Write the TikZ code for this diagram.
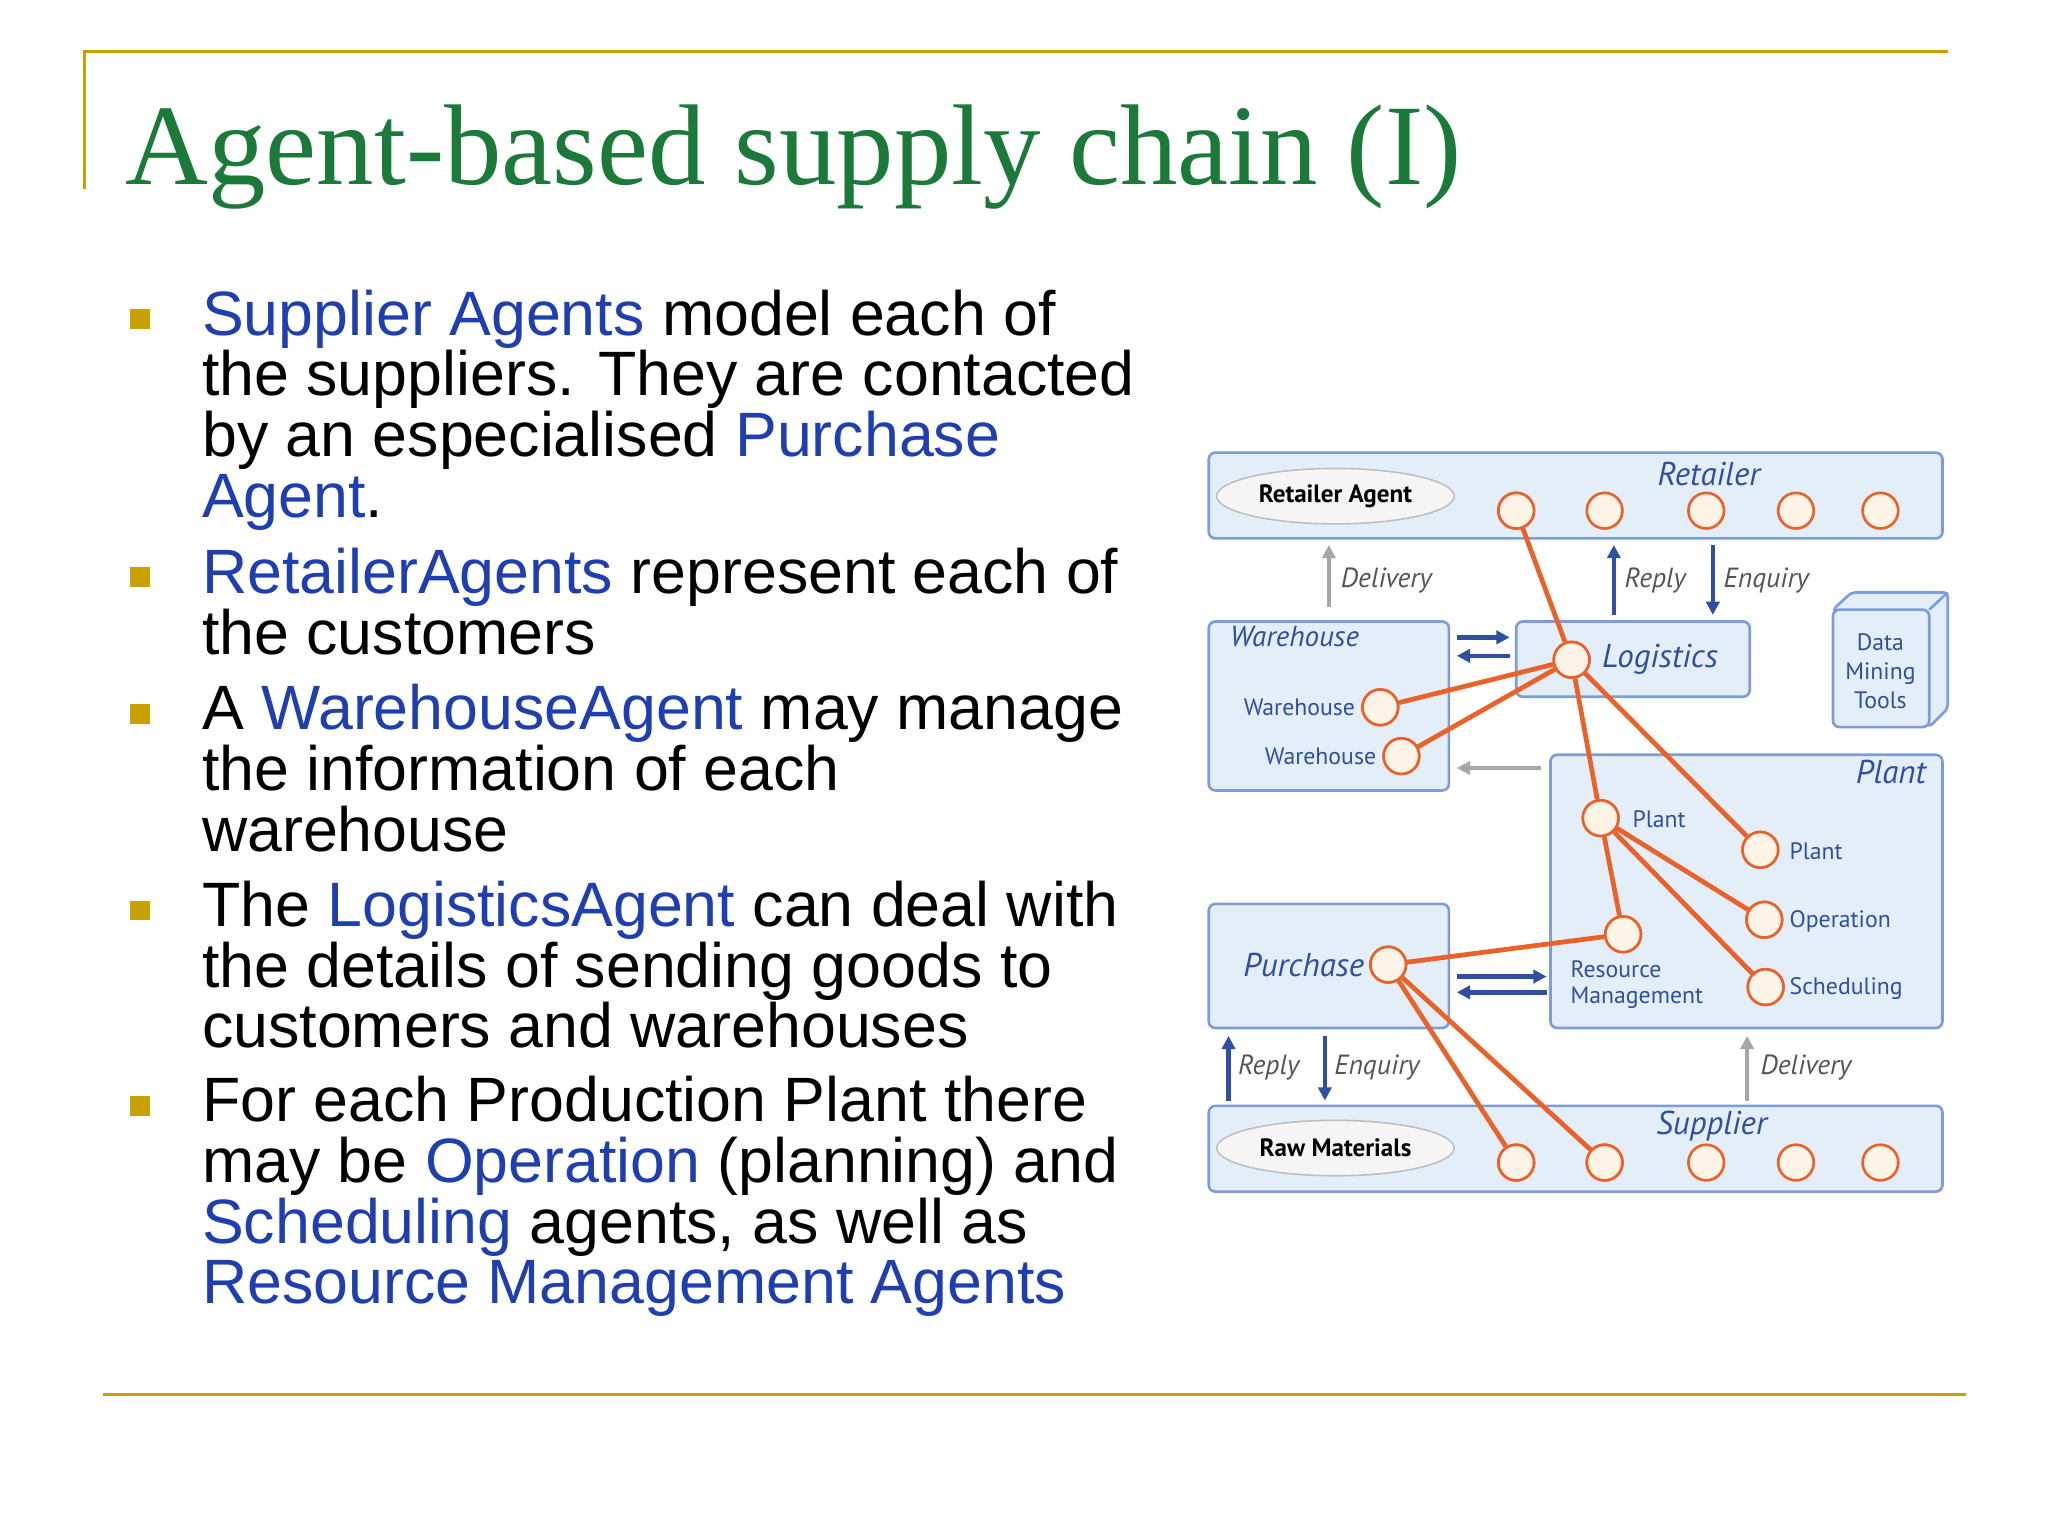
\documentclass[tikz,border=0pt]{standalone}
\usepackage{fontspec}
\setmainfont{Liberation Sans}
\newfontfamily\titlefont{Liberation Serif}
\newfontfamily\dfont{PT Sans}
\usetikzlibrary{arrows.meta,positioning,shapes.geometric}
\definecolor{tgreen}{HTML}{1B7A3A}
\definecolor{gold}{HTML}{C8A000}
\definecolor{hblue}{HTML}{1F3FB0}
\definecolor{bxline}{HTML}{7C9DD6}
\definecolor{bxfill}{HTML}{E4EEF9}
\definecolor{org}{HTML}{E8622A}
\definecolor{cfill}{HTML}{FDF3E6}
\definecolor{dblue}{HTML}{2F4FA0}
\definecolor{dgray}{HTML}{555555}
\tikzset{
 txt/.style={anchor=base west,inner sep=0pt,font=\fontsize{47.5}{46}\selectfont},
 bul/.style={fill=gold,minimum size=15pt,inner sep=0pt},
 bx/.style={draw=bxline,line width=2pt,fill=bxfill,rounded corners=5pt},
 ag/.style={circle,draw=org,line width=2pt,fill=cfill,minimum size=27pt,inner sep=0pt},
 ol/.style={draw=org,line width=3.6pt},
 lab/.style={font=\dfont\fontsize{18}{20}\selectfont,text=dblue,inner sep=1pt},
 ilab/.style={font=\dfont\itshape\fontsize{25}{26}\selectfont,text=dblue,inner sep=1pt},
 alab/.style={font=\dfont\itshape\fontsize{21}{22}\selectfont,text=dgray,inner sep=1pt},
 ell/.style={ellipse,draw=gray!50,line width=1.2pt,fill=gray!8,minimum width=180pt,minimum height=42pt,font=\dfont\bfseries\fontsize{19}{20}\selectfont},
 barr/.style={draw=dblue,line width=3.5pt,-{Triangle[length=10pt,width=10pt]}},
 garr/.style={draw=gray!70,line width=3.5pt,-{Triangle[length=10pt,width=10pt]}}
}
\begin{document}
\begin{tikzpicture}[x=1pt,y=-1pt]
\useasboundingbox (0,0) rectangle (1552,1164);
\fill[white] (0,0) rectangle (1552,1164);
% frame lines
\coordinate (f1) at (64,143); \coordinate (f2) at (64,39); \coordinate (f3) at (1476,39);
\draw[gold,line width=2.5pt] (f1) -- (f2) -- (f3);
\coordinate (b1) at (78,1057); \coordinate (b2) at (1490,1057);
\draw[gold,line width=2.5pt] (b1) -- (b2);
% title
\node[anchor=base west,inner sep=0pt,text=tgreen,font=\titlefont\fontsize{87}{90}\selectfont] (title) at (95,140) {Agent-based supply chain (I)};
% bullets
\foreach \n/\y in {1/242,2/437,3/541,4/690,5/838}{\node[bul] (bu\n) at (106,\y) {};}
\node[txt] (t1) at (153,254) {\textcolor{hblue}{Supplier Agents} model each of};
\node[txt] (t2) at (153,300) {the suppliers. They are contacted};
\node[txt] (t3) at (153,346) {by an especialised \textcolor{hblue}{Purchase}};
\node[txt] (t4) at (153,392) {\textcolor{hblue}{Agent}.};
\node[txt] (t5) at (153,450) {\textcolor{hblue}{RetailerAgents} represent each of};
\node[txt] (t6) at (153,496) {the customers};
\node[txt] (t7) at (153,553) {A \textcolor{hblue}{WarehouseAgent} may manage};
\node[txt] (t8) at (153,599) {the information of each};
\node[txt] (t9) at (153,645) {warehouse};
\node[txt] (t10) at (153,702) {The \textcolor{hblue}{LogisticsAgent} can deal with};
\node[txt] (t11) at (153,748) {the details of sending goods to};
\node[txt] (t12) at (153,794) {customers and warehouses};
\node[txt] (t13) at (153,850) {For each Production Plant there};
\node[txt] (t14) at (153,896) {may be \textcolor{hblue}{Operation} (planning) and};
\node[txt] (t15) at (153,942) {\textcolor{hblue}{Scheduling} agents, as well as};
\node[txt] (t16) at (153,988) {\textcolor{hblue}{Resource Management Agents}};
% boxes
\draw[bx] (916,343) rectangle (1472,408);
\draw[bx] (916,838) rectangle (1472,903);
\draw[bx] (916,471) rectangle (1098,599);
\draw[bx] (1149,471) rectangle (1326,528);
\draw[bx] (1175,572) rectangle (1472,779);
\draw[bx] (916,685) rectangle (1098,779);
% data mining cube
\draw[bx,rounded corners=3pt] (1389,462) -- (1403,449) -- (1476,449) -- (1476,537) -- (1462,551) -- cycle;
\draw[bx] (1389,462) rectangle (1462,551);
\draw[bxline,line width=2pt] (1462,462) -- (1476,449);
\node[lab,align=center,font=\dfont\fontsize{18}{22}\selectfont] (dm) at (1425,509) {Data\\Mining\\Tools};
% labels
\node[ilab] (lret) at (1295,359) {Retailer};
\node[ilab] (lsup) at (1297,853) {Supplier};
\node[ilab,font=\dfont\itshape\fontsize{22}{23}\selectfont] (lwh) at (981,482) {Warehouse};
\node[ilab] (llog) at (1258,500) {Logistics};
\node[ilab] (lplant) at (1433,585) {Plant};
\node[ilab] (lpur) at (988,731) {Purchase};
\node[ell] (ra) at (1012,376) {Retailer Agent};
\node[ell] (rm) at (1012,870) {Raw Materials};
% agents
\foreach \i/\x in {1/1149,2/1216,3/1293,4/1361,5/1425}{
 \node[ag] (r\i) at (\x,387) {};
 \node[ag] (s\i) at (\x,881) {};}
\node[ag] (lg) at (1191,500) {};
\node[ag] (w1) at (1046,536) {};
\node[ag] (w2) at (1062,573) {};
\node[ag] (p1) at (1213,620) {};
\node[ag] (p2) at (1334,644) {};
\node[ag] (op) at (1337,697) {};
\node[ag] (sc) at (1338,748) {};
\node[ag] (res) at (1230,708) {};
\node[ag] (pu) at (1052,731) {};
\node[lab,anchor=east] (lw1) at (1028,536) {Warehouse};
\node[lab,anchor=east] (lw2) at (1044,573) {Warehouse};
\node[lab,anchor=west] (lp1) at (1236,621) {Plant};
\node[lab,anchor=west] (lp2) at (1355,645) {Plant};
\node[lab,anchor=west] (lop) at (1355,698) {Operation};
\node[lab,anchor=west] (lsc) at (1355,749) {Scheduling};
\node[lab,anchor=west,align=left,font=\dfont\fontsize{18}{20}\selectfont] (lres) at (1189,746) {Resource\\Management};
% orange links
\draw[ol] (r1) -- (lg);
\draw[ol] (lg) -- (w1);
\draw[ol] (lg) -- (w2);
\draw[ol] (lg) -- (p1);
\draw[ol] (lg) -- (p2);
\draw[ol] (p1) -- (res);
\draw[ol] (p1) -- (op);
\draw[ol] (p1) -- (sc);
\draw[ol] (pu) -- (res);
\draw[ol] (pu) -- (s1);
\draw[ol] (pu) -- (s2);
\foreach \n in {r1,lg,w1,w2,p1,p2,op,sc,res,pu,s1,s2}{\node[ag] at (\n) {};}
% arrows
\coordinate (d1a) at (1007,460); \coordinate (d1b) at (1007,413);
\draw[garr] (d1a) -- (d1b);
\node[alab,anchor=west] (ld1) at (1015,440) {Delivery};
\coordinate (rp1a) at (1223,466); \coordinate (rp1b) at (1223,413);
\draw[barr] (rp1a) -- (rp1b);
\node[alab,anchor=west] (lrp1) at (1230,440) {Reply};
\coordinate (en1a) at (1298,413); \coordinate (en1b) at (1298,466);
\draw[barr] (en1a) -- (en1b);
\node[alab,anchor=west] (len1) at (1305,440) {Enquiry};
\coordinate (h1a) at (1104,483); \coordinate (h1b) at (1144,483);
\draw[barr] (h1a) -- (h1b);
\coordinate (h2a) at (1144,497); \coordinate (h2b) at (1104,497);
\draw[barr] (h2a) -- (h2b);
\coordinate (g1a) at (1168,582); \coordinate (g1b) at (1104,582);
\draw[garr] (g1a) -- (g1b);
\coordinate (h3a) at (1104,740); \coordinate (h3b) at (1172,740);
\draw[barr] (h3a) -- (h3b);
\coordinate (h4a) at (1172,752); \coordinate (h4b) at (1104,752);
\draw[barr] (h4a) -- (h4b);
\coordinate (rp2a) at (931,834); \coordinate (rp2b) at (931,785);
\draw[barr] (rp2a) -- (rp2b);
\node[alab,anchor=west] (lrp2) at (937,809) {Reply};
\coordinate (en2a) at (1004,785); \coordinate (en2b) at (1004,834);
\draw[barr] (en2a) -- (en2b);
\node[alab,anchor=west] (len2) at (1010,809) {Enquiry};
\coordinate (d2a) at (1324,834); \coordinate (d2b) at (1324,785);
\draw[garr] (d2a) -- (d2b);
\node[alab,anchor=west] (ld2) at (1333,809) {Delivery};
\end{tikzpicture}
\end{document}
